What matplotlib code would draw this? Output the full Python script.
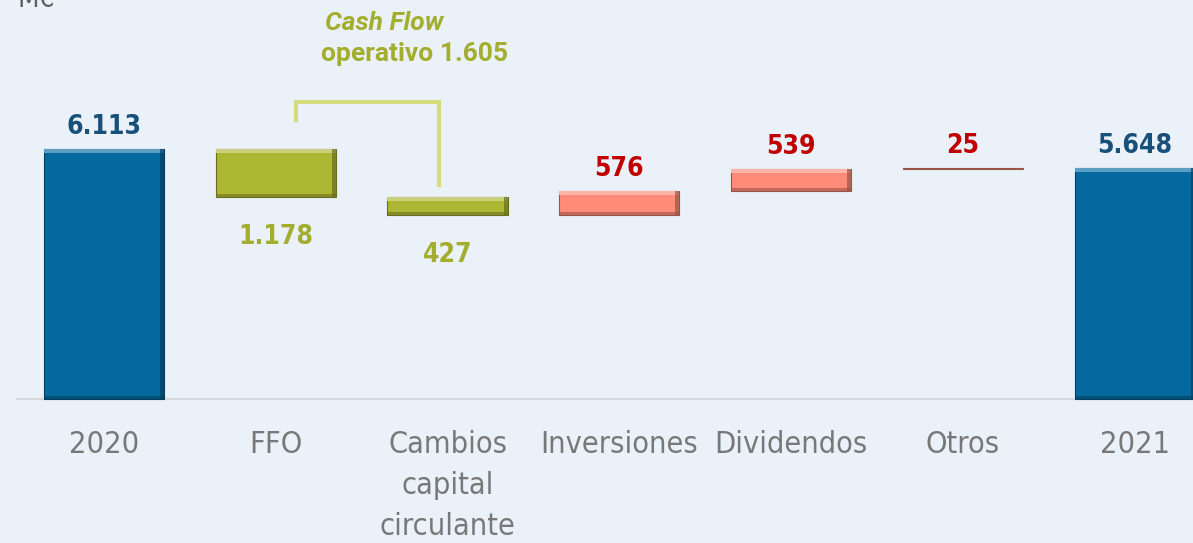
import matplotlib.pyplot as plt
import matplotlib.colors as mcolors

categories = ['2020', 'FFO', 'Cambios\ncapital\ncirculante', 'Inversiones', 'Dividendos', 'Otros', '2021']
changes = [6113, -1178, -427, 576, 539, 25, 5648]
kinds = ['total', 'down', 'down', 'up', 'up', 'up', 'total']
labels = ['6.113', '1.178', '427', '576', '539', '25', '5.648']
cash_flow_total = '1.605'

bg = '#EAF1F8'
fill = {'total': '#04699F', 'down': '#AEB734', 'up': '#FF8C78'}
label_col = {'total': '#17507A', 'down': '#A3AD2E', 'up': '#C00000'}
narrow = dict(family='DejaVu Sans', stretch='condensed')

W, H = 1193, 543
fig = plt.figure(figsize=(W / 100, H / 100), dpi=100, facecolor=bg)
ax = fig.add_axes([0, 0, 1, 1], facecolor=bg)
ymin, ymax = -3521, 9755
ax.set_xlim(-0.605, 6.339)
ax.set_ylim(ymin, ymax)
py = (ymax - ymin) / H  # data units per pixel

# waterfall
bottoms, tops = [], []
running = 0
for v, k in zip(changes, kinds):
    if k == 'total':
        b, t = 0, v
        running = v
    elif k == 'down':
        b, t = running + v, running
        running += v
    else:
        b, t = running, running + v
        running += v
    bottoms.append(b)
    tops.append(t)

w = 0.7
for i, k in enumerate(kinds):
    h = tops[i] - bottoms[i]
    c = fill[k]
    dark = [x * 0.6 for x in mcolors.to_rgb(c)]
    light = [x + (1 - x) * 0.35 for x in mcolors.to_rgb(c)]
    ax.bar(i, h, w, bottoms[i], color=c, edgecolor=dark, linewidth=0.8, zorder=2)
    if h > 8 * py:
        # simple bevel look
        ax.bar(i, 4 * py, w, tops[i] - 4 * py, color=light, linewidth=0, zorder=3)
        ax.bar(i, 3 * py, w, bottoms[i], color=dark, linewidth=0, alpha=0.6, zorder=3)
        ax.bar(i + w / 2 - 0.012, h, 0.024, bottoms[i], color=dark, linewidth=0, alpha=0.7, zorder=3)

    if k == 'down':
        ax.annotate(labels[i], (i, bottoms[i]), xytext=(0, -27), textcoords='offset pixels',
                    ha='center', va='top', fontsize=19, fontweight='bold',
                    color=label_col[k], **narrow)
    else:
        ax.annotate(labels[i], (i, tops[i]), xytext=(0, 9), textcoords='offset pixels',
                    ha='center', va='bottom', fontsize=19, fontweight='bold',
                    color=label_col[k], **narrow)

# operating cash flow bracket
bx0, bx1 = 1.116, 1.953
b_top = tops[1] + 47 * py
ax.plot([bx0, bx0, bx1, bx1], [tops[1] + 29 * py, b_top, b_top, tops[2] + 12 * py],
        color='#D6DC7C', lw=3, solid_joinstyle='miter', zorder=2)
ax.text(1.287, b_top + 79 * py, 'Cash Flow', fontsize=19, fontweight='bold', style='italic',
        color='#A3AD2E', ha='left', va='center', family=['Roboto', 'DejaVu Sans'])
ax.text(1.265, b_top + 48 * py, 'operativo ' + cash_flow_total, fontsize=19, fontweight='bold',
        color='#A3AD2E', ha='left', va='center', family=['Roboto', 'DejaVu Sans'])

ax.axhline(0, xmin=17 / W, xmax=1, color='#D4D8DC', lw=1.5, zorder=1)

# category labels under the baseline
for i, lab in enumerate(categories):
    ax.annotate(lab, (i, 0), xytext=(0, -31), textcoords='offset pixels',
                ha='center', va='top', fontsize=22, color='#787878',
                linespacing=1.52, **narrow)

ax.set_xticks([])
ax.set_yticks([])
for s in ax.spines.values():
    s.set_visible(False)

fig.text(17 / W, 1 - 7 / H, 'M€', fontsize=20, color='#606060', ha='left', va='baseline',
         **narrow)

fig.savefig('out.png', dpi=100, facecolor=bg)
